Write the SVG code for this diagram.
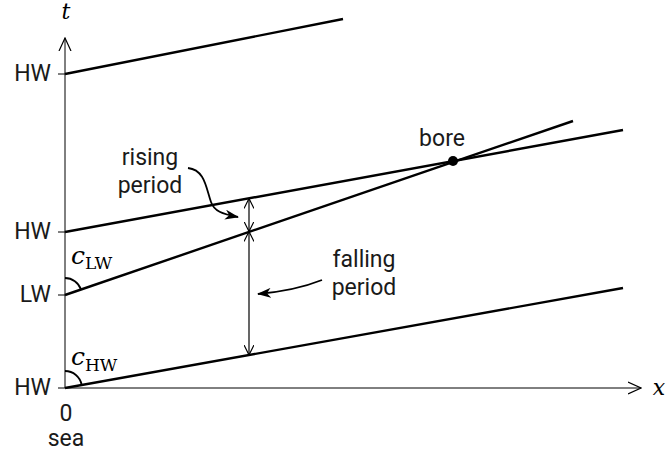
<svg xmlns="http://www.w3.org/2000/svg" width="666" height="452" viewBox="0 0 666 452">
<style>
.ax{stroke:#000;stroke-width:1;fill:none}
.ln{stroke:#000;stroke-width:2.4;fill:none}
.th{stroke:#000;stroke-width:1.2;fill:none}
.lb{font-family:Roboto,"Liberation Sans",sans-serif;font-size:23px;fill:#1a1a1a}
.it{font-family:"DejaVu Serif","Liberation Serif",serif;font-style:italic;font-size:22px;fill:#000}
.ic{font-family:"DejaVu Serif","Liberation Serif",serif;font-style:italic;font-size:25px;fill:#000}
.sb{font-family:"DejaVu Serif","Liberation Serif",serif;font-size:17px;fill:#000}
</style>
<defs>
<marker id="v" viewBox="0 0 10 10" refX="10" refY="5" markerWidth="10" markerHeight="10" markerUnits="userSpaceOnUse" orient="auto-start-reverse">
<path d="M0,0 L10,5 L0,10" fill="none" stroke="#000" stroke-width="1.2"/>
</marker>
<marker id="va" viewBox="0 0 14 14" refX="13" refY="7" markerWidth="14" markerHeight="14" markerUnits="userSpaceOnUse" orient="auto">
<path d="M0,1 L13,7 L0,13" fill="none" stroke="#000" stroke-width="1.2"/>
</marker>
<marker id="st" viewBox="0 0 14 10" refX="13" refY="5" markerWidth="14" markerHeight="10" markerUnits="userSpaceOnUse" orient="auto">
<path d="M0,0 L14,5 L0,10 L4,5 Z" fill="#000"/>
</marker>
</defs>
<g id="axes">
<line class="ax" x1="65" y1="388" x2="65" y2="38" marker-end="url(#va)"/>
<line class="ax" x1="65" y1="388" x2="641" y2="388" marker-end="url(#va)"/>
<line class="ax" x1="58" y1="74" x2="65" y2="74"/>
<line class="ax" x1="58" y1="232" x2="65" y2="232"/>
<line class="ax" x1="58" y1="295" x2="65" y2="295"/>
<line class="ax" x1="58" y1="388" x2="65" y2="388"/>
<text class="it" x="66" y="19" text-anchor="middle">t</text>
<text class="it" x="659" y="395" text-anchor="middle">x</text>
<text class="lb" x="51" y="81" text-anchor="end">HW</text>
<text class="lb" x="51" y="239" text-anchor="end">HW</text>
<text class="lb" x="51" y="302" text-anchor="end">LW</text>
<text class="lb" x="51" y="395" text-anchor="end">HW</text>
<text class="lb" x="66" y="421" text-anchor="middle">0</text>
<text class="lb" x="66" y="446" text-anchor="middle">sea</text>
</g>
<g id="connectors">
<line class="ln" x1="65" y1="74" x2="343" y2="19"/>
<line class="ln" x1="65" y1="232" x2="623" y2="130"/>
<line class="ln" x1="65" y1="295" x2="573" y2="121"/>
<line class="ln" x1="65" y1="388" x2="623" y2="288"/>
<line class="th" x1="249" y1="198.5" x2="249" y2="231.5" marker-start="url(#v)" marker-end="url(#v)"/>
<line class="th" x1="249" y1="231.5" x2="249" y2="355" marker-start="url(#v)" marker-end="url(#v)"/>
<path class="ln" style="stroke-width:1.8" d="M188,168 C205,170 206,188 211,202 C214,211 222,214 238,217" marker-end="url(#st)"/>
<path class="ln" style="stroke-width:1.8" d="M322,280 C302,288 280,292 258,294" marker-end="url(#st)"/>
<path class="th" style="stroke-width:1.8" d="M65,278 A17,17 0 0 1 81,289.5"/>
<path class="th" style="stroke-width:1.8" d="M65,371 A17,17 0 0 1 81.7,385"/>
</g>
<g id="bore">
<circle cx="453" cy="161" r="5" fill="#000"/>
<text class="lb" x="442" y="146" text-anchor="middle">bore</text>
</g>
<g id="rising">
<text class="lb" x="150" y="165" text-anchor="middle">rising</text>
<text class="lb" x="150" y="193" text-anchor="middle">period</text>
</g>
<g id="falling">
<text class="lb" x="364" y="267" text-anchor="middle">falling</text>
<text class="lb" x="364" y="295" text-anchor="middle">period</text>
</g>
<g id="clw">
<text x="71" y="264"><tspan class="ic">c</tspan><tspan class="sb" dy="5">LW</tspan></text>
</g>
<g id="chw">
<text x="71" y="365"><tspan class="ic">c</tspan><tspan class="sb" dy="6">HW</tspan></text>
</g>
</svg>
